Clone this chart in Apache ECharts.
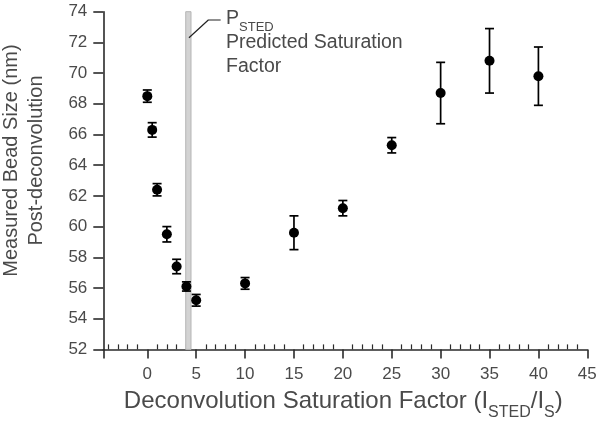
<!DOCTYPE html>
<html>
<head>
<meta charset="utf-8">
<script src="https://cdn.jsdelivr.net/npm/echarts@6/dist/echarts.min.js"></script>
<style>html,body{margin:0;padding:0;background:#fff;}#c{width:600px;height:422px;}</style>
</head>
<body>
<div id="c"></div>
<script>
// Data
const xValues = [0, 0.5, 1, 2, 3, 4, 5, 10, 15, 20, 25, 30, 35, 40];
const yValues = [68.5, 66.3, 62.4, 59.5, 57.4, 56.1, 55.2, 56.3, 59.6, 61.2, 65.3, 68.7, 70.8, 69.8];
const errValues = [0.4, 0.47, 0.4, 0.5, 0.47, 0.3, 0.38, 0.38, 1.1, 0.5, 0.5, 2.0, 2.1, 1.9];
const xMajorTicks = [-4.5, 0, 5, 10, 15, 20, 25, 30, 35, 40, 45];
const xTickLabels = [0, 5, 10, 15, 20, 25, 30, 35, 40, 45];
const xMinorTicks = [-4, -3, -2, -1, 1, 2, 3, 4, 6, 7, 8, 9, 11, 12, 13, 14, 16, 17, 18, 19, 21, 22, 23, 24, 26, 27, 28, 29, 31, 32, 33, 34, 36, 37, 38, 39, 41, 42, 43, 44];
const bandRange = [3.93, 4.47];
const leaderX = [4.26, 6.24, 7.5];
const leaderY = [72.3, 73.46, 73.46];
const annotationAnchor = [8.05, 73.46];

const FONT = 'Liberation Sans, Arial, sans-serif';
const TXT = '#4a4a4a';
const AX = '#2a2a2a';

const chart = echarts.init(document.getElementById('c'), null, {renderer: 'canvas'});
const X_MIN = -4.5, X_MAX = 45, Y_MIN = 52, Y_MAX = 74;

const option = {
  animation: false,
  backgroundColor: '#fff',
  grid: {left: 103.3, right: 12.7, top: 11.7, bottom: 72.6, containLabel: false, outerBoundsMode: 'none'},
  xAxis: [{
    type: 'value', min: X_MIN, max: X_MAX,
    axisLine: {show: true, onZero: false, lineStyle: {color: AX, width: 1.6}},
    axisTick: {show: true, inside: false, length: 9, customValues: xMajorTicks, lineStyle: {color: AX, width: 1.6}},
    axisLabel: {show: true, customValues: xTickLabels, margin: 16, color: TXT, fontSize: 17, fontFamily: FONT},
    splitLine: {show: false},
    name: '{m|Deconvolution Saturation Factor (I}{s|STED}{m|/I}{s|S}{m|)}',
    nameLocation: 'middle', nameGap: 40,
    nameTextStyle: {
      padding: [0, 4, 0, 0],
      rich: {
        m: {fontSize: 24, lineHeight: 28, color: TXT, fontFamily: FONT, verticalAlign: 'top'},
        s: {fontSize: 16, lineHeight: 16, color: TXT, fontFamily: FONT, verticalAlign: 'top', padding: [15, 0, 0, 0]}
      }
    }
  }, {
    type: 'value', min: X_MIN, max: X_MAX, position: 'bottom', offset: 0,
    axisLine: {show: false, onZero: false},
    axisTick: {show: true, inside: true, length: 5, customValues: xMinorTicks, lineStyle: {color: AX, width: 1.2}},
    axisLabel: {show: false},
    splitLine: {show: false}
  }],
  yAxis: {
    type: 'value', min: Y_MIN, max: Y_MAX, interval: 2,
    axisLine: {show: true, onZero: false, lineStyle: {color: AX, width: 1.6}},
    axisTick: {show: true, inside: false, length: 10, lineStyle: {color: AX, width: 1.6}},
    axisLabel: {margin: 16, color: TXT, fontSize: 17, fontFamily: FONT},
    splitLine: {show: false},
    name: 'Measured Bead Size (nm)\nPost-deconvolution',
    nameLocation: 'middle', nameGap: 54, nameRotate: 90,
    nameTextStyle: {fontSize: 20, lineHeight: 25, color: TXT, fontFamily: FONT, padding: [0, 0, 0, 40]}
  },
  series: [{
    type: 'line', xAxisIndex: 0, yAxisIndex: 0,
    data: leaderX.map((x, i) => [x, leaderY[i]]),
    showSymbol: false, symbol: 'none',
    lineStyle: {color: '#222', width: 1.2},
    silent: true, z: 3,
    markArea: {
      silent: true,
      itemStyle: {color: '#d3d3d3', borderColor: '#b5b5b5', borderWidth: 1, opacity: 1},
      data: [[{xAxis: bandRange[0], yAxis: Y_MIN}, {xAxis: bandRange[1], yAxis: Y_MAX}]]
    }
  }, {
    type: 'custom', xAxisIndex: 0, yAxisIndex: 0,
    data: xValues.map((x, i) => [x, yValues[i], errValues[i]]),
    encode: {x: 0, y: 1},
    z: 4,
    renderItem: function (params, api) {
      const x = api.value(0), y = api.value(1), e = api.value(2);
      const top = api.coord([x, y + e]);
      const bot = api.coord([x, y - e]);
      const hw = 4.5;
      const st = {stroke: '#000', lineWidth: 1.7};
      return {type: 'group', children: [
        {type: 'line', shape: {x1: top[0], y1: top[1], x2: bot[0], y2: bot[1]}, style: st},
        {type: 'line', shape: {x1: top[0] - hw, y1: top[1], x2: top[0] + hw, y2: top[1]}, style: st},
        {type: 'line', shape: {x1: bot[0] - hw, y1: bot[1], x2: bot[0] + hw, y2: bot[1]}, style: st}
      ]};
    }
  }, {
    type: 'scatter', xAxisIndex: 0, yAxisIndex: 0,
    data: xValues.map((x, i) => [x, yValues[i]]),
    symbol: 'circle', symbolSize: 10,
    itemStyle: {color: '#000', opacity: 1}, z: 5
  }]
};
chart.setOption(option);

const p = chart.convertToPixel({xAxisIndex: 0, yAxisIndex: 0}, annotationAnchor);
chart.setOption({
  graphic: [{
    type: 'text', left: p[0], top: p[1] - 11.5, z: 10,
    style: {
      text: '{p|P}{s|STED}\n{n|Predicted Saturation}\n{n|Factor}',
      rich: {
        p: {fontSize: 19.5, lineHeight: 24, fill: TXT, fontFamily: FONT, verticalAlign: 'top'},
        s: {fontSize: 13, lineHeight: 13, fill: TXT, fontFamily: FONT, verticalAlign: 'top', padding: [12, 0, 0, 0]},
        n: {fontSize: 19.5, lineHeight: 24, fill: TXT, fontFamily: FONT, verticalAlign: 'top'}
      }
    }
  }]
});
</script>
</body>
</html>
